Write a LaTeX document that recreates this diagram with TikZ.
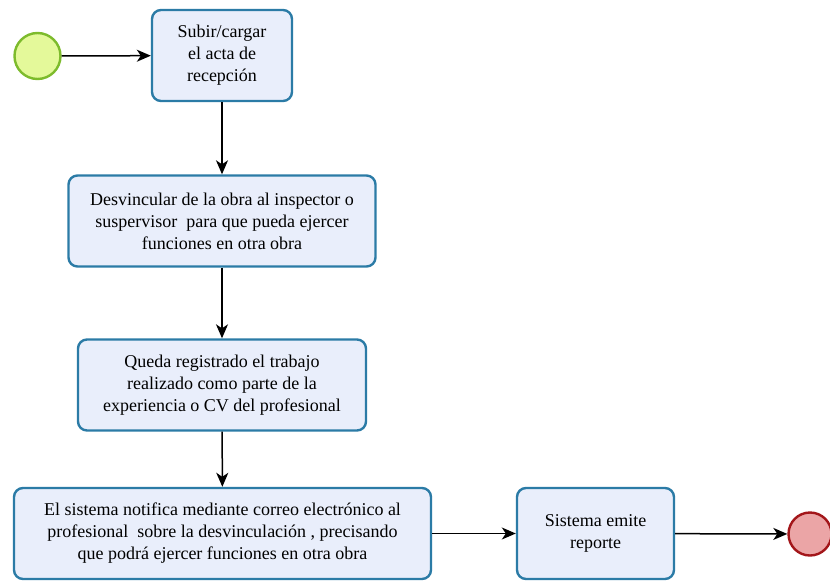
\documentclass[tikz,border=0pt]{standalone}
\usepackage{fontspec}
\setmainfont{LiberationSerif}[Extension=.ttf, UprightFont=*-Regular, BoldFont=*-Bold]
\usetikzlibrary{arrows.meta}
\definecolor{tareafondo}{HTML}{E9EEFB}
\definecolor{tareaborde}{HTML}{2B7BA6}
\definecolor{iniciofondo}{HTML}{E4F99A}
\definecolor{inicioborde}{HTML}{7DBB2C}
\definecolor{finfondo}{HTML}{EBA5A6}
\definecolor{finborde}{HTML}{A3161A}
\tikzset{
  tarea/.style={draw=tareaborde, fill=tareafondo, line width=2.4pt,
    rounded corners=9pt, align=center, inner sep=0pt,
    font=\rmfamily\fontsize{18}{22}\selectfont},
  evento/.style={circle, line width=2.4pt, inner sep=0pt},
  flujo/.style={-{Stealth[length=14pt,width=12pt,inset=4pt]}, line width=1.5pt}
}
\begin{document}
\begin{tikzpicture}[x=1pt,y=-1pt]
  \useasboundingbox (0,0) rectangle (830,581);
  % eventos
  \node[evento, draw=inicioborde, fill=iniciofondo, minimum size=46pt] (inicio) at (37.5,56) {};
  \node[evento, draw=finborde, fill=finfondo, minimum size=43pt] (fin) at (810,534) {};
  % tareas
  \node[tarea, minimum width=140pt, minimum height=91pt] (subir) at (222,55.5)
    {Subir/cargar\\el acta de\\recepción};
  \node[tarea, minimum width=307pt, minimum height=91pt] (desvincular) at (222,221)
    {Desvincular de la obra al inspector o\\suspervisor\ \ para que pueda ejercer\\funciones en otra obra};
  \node[tarea, minimum width=288pt, minimum height=91pt] (registro) at (222,385)
    {Queda registrado el trabajo\\realizado como parte de la\\experiencia o CV del profesional};
  \node[tarea, minimum width=417pt, minimum height=91pt] (notifica) at (222.5,533.5)
    {El sistema notifica mediante correo electrónico al\\profesional\ \ sobre la desvinculación , precisando\\que podrá ejercer funciones en otra obra};
  \node[tarea, minimum width=157pt, minimum height=91pt] (reporte) at (595.5,533.5)
    {Sistema emite\\reporte};
  % flujos
  \draw[flujo] (inicio) -- (subir);
  \draw[flujo] (subir) -- (desvincular);
  \draw[flujo] (desvincular) -- (registro);
  \draw[flujo] (registro) -- (notifica);
  \draw[flujo] (notifica) -- (reporte);
  \draw[flujo] (reporte) -- (fin);
\end{tikzpicture}
\end{document}
